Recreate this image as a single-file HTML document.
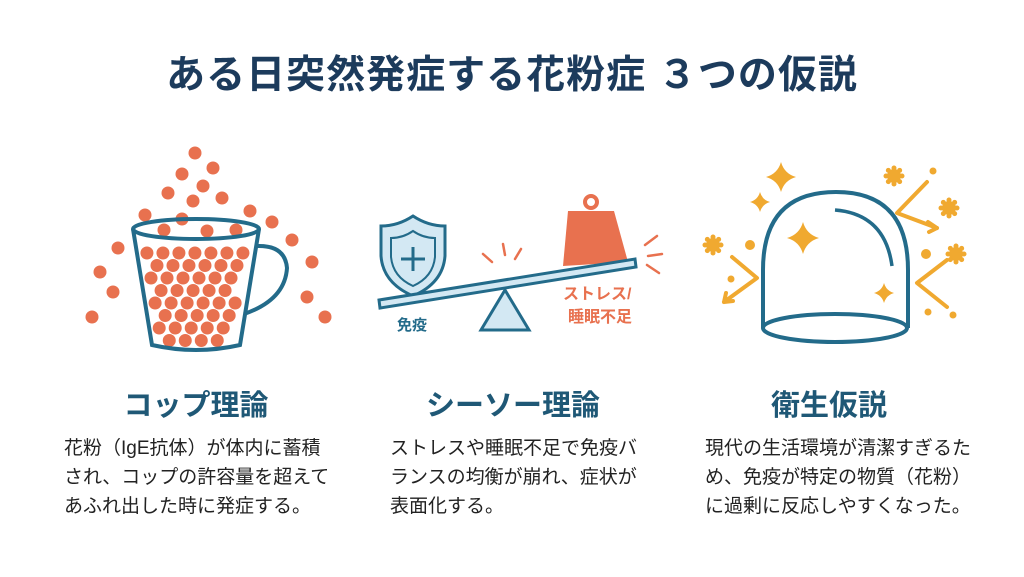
<!DOCTYPE html>
<html><head><meta charset="utf-8"><style>
body{margin:0;width:1024px;height:577px;background:#fff;overflow:hidden;position:relative;font-family:"Liberation Sans","Noto Sans CJK JP",sans-serif}
.t{position:absolute;left:0;width:1024px;top:44px;text-align:center;font-size:39px;font-weight:bold;color:#1c3b5c;letter-spacing:1px}
.h{position:absolute;top:382px;width:300px;text-align:center;font-size:29px;font-weight:bold;color:#1f5876}
.b{position:absolute;top:434px;font-size:19px;line-height:29px;color:#222;white-space:nowrap}
svg{position:absolute;left:0;top:0}
</style></head><body>
<div class="t">ある日突然発症する花粉症 ３つの仮説</div>
<svg width="1024" height="577" id="s">
<g id="dots" fill="#e8714f"></g>
<g fill="none" stroke="#236b8a" stroke-width="4">
<ellipse cx="196" cy="229" rx="63" ry="10"/>
<path d="M133 229 L152 345 Q196 355 240 345 L259 229"/>
<path d="M257 246 Q285 245 287 268 Q285 300 244 314"/>
</g>
<path d="M413 216 Q398 226 381 226 L381 256 Q383 283 413 296 Q443 283 445 256 L445 226 Q428 226 413 216Z" fill="#d3e8f3" stroke="#236b8a" stroke-width="3"/>
<path d="M413 231 Q403 238 391 238 L391 257 Q393 277 413 286 Q433 277 435 257 L435 238 Q423 238 413 231Z" fill="none" stroke="#236b8a" stroke-width="2"/>
<path d="M413 247v24M401 259h24" stroke="#236b8a" stroke-width="3"/>
<circle cx="591" cy="202" r="6" fill="none" stroke="#e8714f" stroke-width="4"/>
<path d="M568 211 L614 211 L628 262 L563 266Z" fill="#e8714f"/>
<path d="M505 290 L481 330 L529 330Z" fill="#d3e8f3" stroke="#236b8a" stroke-width="3"/>
<path d="M379 300 L635 259 L636 267 L380 308Z" fill="#d3e8f3" stroke="#236b8a" stroke-width="3"/>
<g stroke="#e8714f" stroke-width="2.5" stroke-linecap="round">
<path d="M483 254l9 8M503 244l2 11M521 249l-6 10M645 245l12-9M648 256l14-2M647 265l12 8"/>
</g>
<text x="412" y="330" font-size="15" font-weight="bold" fill="#236b8a" text-anchor="middle">免疫</text>
<text x="563" y="299" font-size="16" font-weight="bold" fill="#e8714f">ストレス/</text>
<text x="568" y="322" font-size="16" font-weight="bold" fill="#e8714f">睡眠不足</text>
<g fill="none" stroke="#236b8a" stroke-width="4">
<path d="M763 328 L763 270 Q763 192 836 192 Q908 192 908 270 L908 328"/>
<ellipse cx="835" cy="328" rx="72" ry="14"/>
<path d="M835 210 Q885 214 892 266" stroke-width="3.5"/>
</g>
<g fill="#f0a930" id="stars"></g>
<g stroke="#f0a930" stroke-width="4" fill="none" stroke-linecap="round" stroke-linejoin="round">
<path d="M732 257 L757 278 L724 302 M724 302l2-9M724 302l9 -1"/>
<path d="M927 182 L897 213 L937 228 M937 228l-9-6M937 228l-8 4"/>
<path d="M947 260 L917 283 L947 307"/>
</g>
<g fill="#f0a930">
<circle cx="750" cy="245" r="5"/><circle cx="731" cy="279" r="3.5"/><circle cx="933" cy="171" r="3.5"/>
<circle cx="926" cy="254" r="5"/><circle cx="928" cy="312" r="3.5"/><circle cx="953" cy="315" r="3.5"/>
</g>
</svg>
<div class="h" style="left:46px">コップ理論</div>
<div class="h" style="left:363px">シーソー理論</div>
<div class="h" style="left:679px">衛生仮説</div>
<div class="b" style="left:64px">花粉（IgE抗体）が体内に蓄積<br>され、コップの許容量を超えて<br>あふれ出した時に発症する。</div>
<div class="b" style="left:390px">ストレスや睡眠不足で免疫バ<br>ランスの均衡が崩れ、症状が<br>表面化する。</div>
<div class="b" style="left:705px">現代の生活環境が清潔すぎるた<br>め、免疫が特定の物質（花粉）<br>に過剰に反応しやすくなった。</div>
<script>
var ns="http://www.w3.org/2000/svg",g=document.getElementById("dots");
function c(x,y,r,p){var e=document.createElementNS(ns,"circle");e.setAttribute("cx",x);e.setAttribute("cy",y);e.setAttribute("r",r);(p||g).appendChild(e);}
[[195,153],[213,168],[182,174],[203,186],[168,193],[193,201],[222,198],[145,215],[182,219],[250,211],[272,222],[292,240],[118,248],[312,262],[100,272],[113,292],[307,297],[92,317],[325,317],[164,230],[207,231],[236,230]].forEach(function(p){c(p[0],p[1],6.5)});
for(var r=0;r<8;r++){var y=253+r*12.5;var t=(y-229)/116;var L=133+19*t+10,R=259-19*t-10;var off=(r%2)*8;for(var x=L+off;x<=R;x+=16)c(x,y,6.5);}
var sg=document.getElementById("stars");
function star(x,y,s){var p=document.createElementNS(ns,"path");var k=s*0.22;p.setAttribute("d","M"+x+" "+(y-s)+"Q"+(x+k)+" "+(y-k)+" "+(x+s)+" "+y+"Q"+(x+k)+" "+(y+k)+" "+x+" "+(y+s)+"Q"+(x-k)+" "+(y+k)+" "+(x-s)+" "+y+"Q"+(x-k)+" "+(y-k)+" "+x+" "+(y-s)+"Z");sg.appendChild(p);}
star(781,177,15);star(760,202,10);star(803,238,16);star(884,293,10);
function gear(x,y){c(x,y,7,sg);for(var i=0;i<8;i++){var a=i*Math.PI/4;c(x+8*Math.cos(a),y+8*Math.sin(a),2.5,sg);}}
gear(894,176);gear(949,208);gear(713,245);gear(956,254);
</script>
</body></html>
